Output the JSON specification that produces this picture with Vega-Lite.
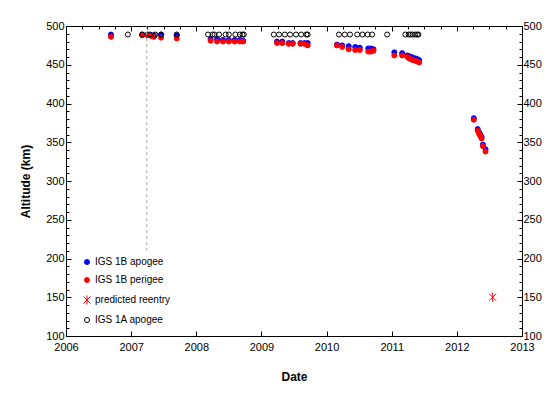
{
  "$schema": "https://vega.github.io/schema/vega-lite/v6.json",
  "width": 456,
  "height": 310,
  "autosize": {"type": "none"},
  "padding": {"left": 66, "top": 26, "right": 37, "bottom": 57},
  "background": "white",
  "config": {
    "view": {"stroke": null},
    "axis": {
      "domainColor": "black",
      "tickColor": "black",
      "labelColor": "black",
      "labelFont": "Liberation Sans",
      "labelFontSize": 11,
      "titleFont": "Liberation Sans",
      "titleFontSize": 12,
      "titleFontWeight": "bold",
      "titleColor": "black",
      "grid": false
    }
  },
  "layer": [
    {
      "data": {
        "values": [
          {"year": 2006.69, "alt": 489, "series": "IGS 1B apogee"},
          {"year": 2007.17, "alt": 489, "series": "IGS 1B apogee"},
          {"year": 2007.25, "alt": 489, "series": "IGS 1B apogee"},
          {"year": 2007.31, "alt": 488, "series": "IGS 1B apogee"},
          {"year": 2007.35, "alt": 488, "series": "IGS 1B apogee"},
          {"year": 2007.46, "alt": 489, "series": "IGS 1B apogee"},
          {"year": 2007.70, "alt": 488, "series": "IGS 1B apogee"},
          {"year": 2008.22, "alt": 483, "series": "IGS 1B apogee"},
          {"year": 2008.32, "alt": 483, "series": "IGS 1B apogee"},
          {"year": 2008.41, "alt": 482, "series": "IGS 1B apogee"},
          {"year": 2008.50, "alt": 482, "series": "IGS 1B apogee"},
          {"year": 2008.59, "alt": 482, "series": "IGS 1B apogee"},
          {"year": 2008.67, "alt": 482, "series": "IGS 1B apogee"},
          {"year": 2008.72, "alt": 481, "series": "IGS 1B apogee"},
          {"year": 2009.24, "alt": 480, "series": "IGS 1B apogee"},
          {"year": 2009.32, "alt": 480, "series": "IGS 1B apogee"},
          {"year": 2009.42, "alt": 478, "series": "IGS 1B apogee"},
          {"year": 2009.48, "alt": 478, "series": "IGS 1B apogee"},
          {"year": 2009.60, "alt": 478, "series": "IGS 1B apogee"},
          {"year": 2009.66, "alt": 478, "series": "IGS 1B apogee"},
          {"year": 2009.71, "alt": 478, "series": "IGS 1B apogee"},
          {"year": 2010.16, "alt": 476, "series": "IGS 1B apogee"},
          {"year": 2010.24, "alt": 475, "series": "IGS 1B apogee"},
          {"year": 2010.34, "alt": 474, "series": "IGS 1B apogee"},
          {"year": 2010.44, "alt": 473, "series": "IGS 1B apogee"},
          {"year": 2010.51, "alt": 472, "series": "IGS 1B apogee"},
          {"year": 2010.64, "alt": 471, "series": "IGS 1B apogee"},
          {"year": 2010.68, "alt": 471, "series": "IGS 1B apogee"},
          {"year": 2010.72, "alt": 470, "series": "IGS 1B apogee"},
          {"year": 2011.04, "alt": 466, "series": "IGS 1B apogee"},
          {"year": 2011.16, "alt": 465, "series": "IGS 1B apogee"},
          {"year": 2011.24, "alt": 462, "series": "IGS 1B apogee"},
          {"year": 2011.27, "alt": 461, "series": "IGS 1B apogee"},
          {"year": 2011.30, "alt": 460, "series": "IGS 1B apogee"},
          {"year": 2011.33, "alt": 459, "series": "IGS 1B apogee"},
          {"year": 2011.37, "alt": 458, "series": "IGS 1B apogee"},
          {"year": 2011.40, "alt": 457, "series": "IGS 1B apogee"},
          {"year": 2011.42, "alt": 456, "series": "IGS 1B apogee"},
          {"year": 2012.26, "alt": 381, "series": "IGS 1B apogee"},
          {"year": 2012.32, "alt": 367, "series": "IGS 1B apogee"},
          {"year": 2012.34, "alt": 363, "series": "IGS 1B apogee"},
          {"year": 2012.36, "alt": 360, "series": "IGS 1B apogee"},
          {"year": 2012.38, "alt": 357, "series": "IGS 1B apogee"},
          {"year": 2012.40, "alt": 347, "series": "IGS 1B apogee"},
          {"year": 2012.44, "alt": 341, "series": "IGS 1B apogee"},
          {"year": 2006.69, "alt": 486, "series": "IGS 1B perigee"},
          {"year": 2007.17, "alt": 488, "series": "IGS 1B perigee"},
          {"year": 2007.25, "alt": 488, "series": "IGS 1B perigee"},
          {"year": 2007.31, "alt": 487, "series": "IGS 1B perigee"},
          {"year": 2007.35, "alt": 486, "series": "IGS 1B perigee"},
          {"year": 2007.46, "alt": 485, "series": "IGS 1B perigee"},
          {"year": 2007.70, "alt": 484, "series": "IGS 1B perigee"},
          {"year": 2008.22, "alt": 481, "series": "IGS 1B perigee"},
          {"year": 2008.32, "alt": 480, "series": "IGS 1B perigee"},
          {"year": 2008.41, "alt": 480, "series": "IGS 1B perigee"},
          {"year": 2008.50, "alt": 480, "series": "IGS 1B perigee"},
          {"year": 2008.59, "alt": 480, "series": "IGS 1B perigee"},
          {"year": 2008.67, "alt": 480, "series": "IGS 1B perigee"},
          {"year": 2008.72, "alt": 480, "series": "IGS 1B perigee"},
          {"year": 2009.24, "alt": 478, "series": "IGS 1B perigee"},
          {"year": 2009.32, "alt": 478, "series": "IGS 1B perigee"},
          {"year": 2009.42, "alt": 477, "series": "IGS 1B perigee"},
          {"year": 2009.48, "alt": 477, "series": "IGS 1B perigee"},
          {"year": 2009.60, "alt": 477, "series": "IGS 1B perigee"},
          {"year": 2009.66, "alt": 477, "series": "IGS 1B perigee"},
          {"year": 2009.71, "alt": 475, "series": "IGS 1B perigee"},
          {"year": 2010.16, "alt": 475, "series": "IGS 1B perigee"},
          {"year": 2010.24, "alt": 473, "series": "IGS 1B perigee"},
          {"year": 2010.34, "alt": 470, "series": "IGS 1B perigee"},
          {"year": 2010.44, "alt": 469, "series": "IGS 1B perigee"},
          {"year": 2010.51, "alt": 469, "series": "IGS 1B perigee"},
          {"year": 2010.64, "alt": 467, "series": "IGS 1B perigee"},
          {"year": 2010.68, "alt": 467, "series": "IGS 1B perigee"},
          {"year": 2010.72, "alt": 468, "series": "IGS 1B perigee"},
          {"year": 2011.04, "alt": 462, "series": "IGS 1B perigee"},
          {"year": 2011.16, "alt": 462, "series": "IGS 1B perigee"},
          {"year": 2011.24, "alt": 460, "series": "IGS 1B perigee"},
          {"year": 2011.27, "alt": 458, "series": "IGS 1B perigee"},
          {"year": 2011.30, "alt": 457, "series": "IGS 1B perigee"},
          {"year": 2011.33, "alt": 456, "series": "IGS 1B perigee"},
          {"year": 2011.37, "alt": 455, "series": "IGS 1B perigee"},
          {"year": 2011.40, "alt": 454, "series": "IGS 1B perigee"},
          {"year": 2011.42, "alt": 453, "series": "IGS 1B perigee"},
          {"year": 2012.26, "alt": 379, "series": "IGS 1B perigee"},
          {"year": 2012.32, "alt": 365, "series": "IGS 1B perigee"},
          {"year": 2012.34, "alt": 361, "series": "IGS 1B perigee"},
          {"year": 2012.36, "alt": 358, "series": "IGS 1B perigee"},
          {"year": 2012.38, "alt": 355, "series": "IGS 1B perigee"},
          {"year": 2012.40, "alt": 345, "series": "IGS 1B perigee"},
          {"year": 2012.44, "alt": 338, "series": "IGS 1B perigee"},
          {"year": 2012.55, "alt": 150, "series": "predicted reentry"},
          {"year": 2006.95, "alt": 489, "series": "IGS 1A apogee"},
          {"year": 2007.17, "alt": 489, "series": "IGS 1A apogee"},
          {"year": 2007.29, "alt": 489, "series": "IGS 1A apogee"},
          {"year": 2007.37, "alt": 489, "series": "IGS 1A apogee"},
          {"year": 2007.46, "alt": 489, "series": "IGS 1A apogee"},
          {"year": 2007.70, "alt": 489, "series": "IGS 1A apogee"},
          {"year": 2008.18, "alt": 489, "series": "IGS 1A apogee"},
          {"year": 2008.25, "alt": 489, "series": "IGS 1A apogee"},
          {"year": 2008.28, "alt": 489, "series": "IGS 1A apogee"},
          {"year": 2008.35, "alt": 489, "series": "IGS 1A apogee"},
          {"year": 2008.45, "alt": 489, "series": "IGS 1A apogee"},
          {"year": 2008.50, "alt": 489, "series": "IGS 1A apogee"},
          {"year": 2008.60, "alt": 489, "series": "IGS 1A apogee"},
          {"year": 2008.67, "alt": 489, "series": "IGS 1A apogee"},
          {"year": 2008.71, "alt": 489, "series": "IGS 1A apogee"},
          {"year": 2008.73, "alt": 489, "series": "IGS 1A apogee"},
          {"year": 2009.19, "alt": 489, "series": "IGS 1A apogee"},
          {"year": 2009.27, "alt": 489, "series": "IGS 1A apogee"},
          {"year": 2009.36, "alt": 489, "series": "IGS 1A apogee"},
          {"year": 2009.44, "alt": 489, "series": "IGS 1A apogee"},
          {"year": 2009.53, "alt": 489, "series": "IGS 1A apogee"},
          {"year": 2009.61, "alt": 489, "series": "IGS 1A apogee"},
          {"year": 2009.69, "alt": 489, "series": "IGS 1A apogee"},
          {"year": 2009.71, "alt": 489, "series": "IGS 1A apogee"},
          {"year": 2010.19, "alt": 489, "series": "IGS 1A apogee"},
          {"year": 2010.28, "alt": 489, "series": "IGS 1A apogee"},
          {"year": 2010.36, "alt": 489, "series": "IGS 1A apogee"},
          {"year": 2010.47, "alt": 489, "series": "IGS 1A apogee"},
          {"year": 2010.55, "alt": 489, "series": "IGS 1A apogee"},
          {"year": 2010.63, "alt": 489, "series": "IGS 1A apogee"},
          {"year": 2010.70, "alt": 489, "series": "IGS 1A apogee"},
          {"year": 2010.93, "alt": 489, "series": "IGS 1A apogee"},
          {"year": 2011.21, "alt": 489, "series": "IGS 1A apogee"},
          {"year": 2011.26, "alt": 489, "series": "IGS 1A apogee"},
          {"year": 2011.29, "alt": 489, "series": "IGS 1A apogee"},
          {"year": 2011.32, "alt": 489, "series": "IGS 1A apogee"},
          {"year": 2011.36, "alt": 489, "series": "IGS 1A apogee"},
          {"year": 2011.39, "alt": 489, "series": "IGS 1A apogee"},
          {"year": 2011.41, "alt": 489, "series": "IGS 1A apogee"}
        ]
      },
      "mark": {"type": "point", "size": 25, "strokeWidth": 1, "opacity": 1},
      "encoding": {
        "x": {
          "field": "year", "type": "quantitative",
          "scale": {"domain": [2006, 2013], "nice": false, "zero": false},
          "axis": {
            "title": "Date",
            "orient": "bottom",
            "values": [2006, 2006.25, 2006.5, 2006.75, 2007, 2007.25, 2007.5, 2007.75, 2008, 2008.25, 2008.5, 2008.75, 2009, 2009.25, 2009.5, 2009.75, 2010, 2010.25, 2010.5, 2010.75, 2011, 2011.25, 2011.5, 2011.75, 2012, 2012.25, 2012.5, 2012.75, 2013],
            "format": "d",
            "labelExpr": "datum.value % 1 === 0 ? datum.label : ''",
            "tickSize": {"condition": {"test": "datum.value % 1 === 0", "value": -5}, "value": -3},
            "labelPadding": 10,
            "titlePadding": 19,
            "labelFlush": false,
            "labelOverlap": false
          }
        },
        "y": {
          "field": "alt", "type": "quantitative",
          "scale": {"domain": [100, 500], "nice": false, "zero": false},
          "axis": {
            "title": "Altitude (km)",
            "orient": "left",
            "values": [100, 110, 120, 130, 140, 150, 160, 170, 180, 190, 200, 210, 220, 230, 240, 250, 260, 270, 280, 290, 300, 310, 320, 330, 340, 350, 360, 370, 380, 390, 400, 410, 420, 430, 440, 450, 460, 470, 480, 490, 500],
            "labelExpr": "datum.value % 50 === 0 ? datum.label : ''",
            "tickSize": {"condition": {"test": "datum.value % 50 === 0", "value": -5}, "value": -3},
            "labelPadding": 7,
            "titlePadding": 13,
            "labelFlush": false,
            "labelOverlap": false
          }
        },
        "fill": {
          "field": "series", "type": "nominal",
          "scale": {"domain": ["IGS 1B apogee", "IGS 1B perigee", "predicted reentry", "IGS 1A apogee"], "range": ["#0000ff", "#ff0000", "transparent", "transparent"]},
          "legend": {"orient": "none", "legendX": 16, "legendY": 231, "title": null, "padding": 0, "rowPadding": 8, "labelFont": "Liberation Sans", "labelFontSize": 10, "labelColor": "black", "labelOffset": 3, "symbolSize": 25, "symbolStrokeWidth": 1}
        },
        "stroke": {
          "field": "series", "type": "nominal",
          "scale": {"domain": ["IGS 1B apogee", "IGS 1B perigee", "predicted reentry", "IGS 1A apogee"], "range": ["#0000ff", "#ff0000", "#ff0000", "#000000"]},
          "legend": {"orient": "none", "legendX": 16, "legendY": 231, "title": null, "padding": 0, "rowPadding": 8, "labelFont": "Liberation Sans", "labelFontSize": 10, "labelColor": "black", "labelOffset": 3, "symbolSize": 25, "symbolStrokeWidth": 1}
        },
        "shape": {
          "field": "series", "type": "nominal",
          "scale": {"domain": ["IGS 1B apogee", "IGS 1B perigee", "predicted reentry", "IGS 1A apogee"], "range": ["circle", "circle", "M-1.4,-1.4L1.4,1.4M-1.4,1.4L1.4,-1.4M0,-1.8L0,1.8", "circle"]},
          "legend": {"orient": "none", "legendX": 16, "legendY": 231, "title": null, "padding": 0, "rowPadding": 8, "labelFont": "Liberation Sans", "labelFontSize": 10, "labelColor": "black", "labelOffset": 3, "symbolSize": 25, "symbolStrokeWidth": 1}
        }
      }
    },
    {
      "data": {"values": [{"year": 2007.24, "top": 500, "bottom": 210}]},
      "mark": {"type": "rule", "color": "#a8a8a8", "strokeDash": [3, 3], "strokeWidth": 1},
      "encoding": {
        "x": {
          "field": "year", "type": "quantitative",
          "scale": {"domain": [2006, 2013], "nice": false, "zero": false},
          "axis": {
            "title": null,
            "orient": "top",
            "values": [2006, 2006.25, 2006.5, 2006.75, 2007, 2007.25, 2007.5, 2007.75, 2008, 2008.25, 2008.5, 2008.75, 2009, 2009.25, 2009.5, 2009.75, 2010, 2010.25, 2010.5, 2010.75, 2011, 2011.25, 2011.5, 2011.75, 2012, 2012.25, 2012.5, 2012.75, 2013],
            "labels": false,
            "tickSize": {"condition": {"test": "datum.value % 1 === 0", "value": -5}, "value": -3}
          }
        },
        "y": {
          "field": "top", "type": "quantitative",
          "scale": {"domain": [100, 500], "nice": false, "zero": false},
          "axis": {
            "title": null,
            "orient": "right",
            "values": [100, 110, 120, 130, 140, 150, 160, 170, 180, 190, 200, 210, 220, 230, 240, 250, 260, 270, 280, 290, 300, 310, 320, 330, 340, 350, 360, 370, 380, 390, 400, 410, 420, 430, 440, 450, 460, 470, 480, 490, 500],
            "labelExpr": "datum.value % 50 === 0 ? datum.label : ''",
            "tickSize": {"condition": {"test": "datum.value % 50 === 0", "value": -5}, "value": -3},
            "labelPadding": 6,
            "labelFlush": false,
            "labelOverlap": false
          }
        },
        "y2": {"field": "bottom"}
      }
    }
  ],
  "resolve": {"scale": {"x": "independent", "y": "independent"}}
}
